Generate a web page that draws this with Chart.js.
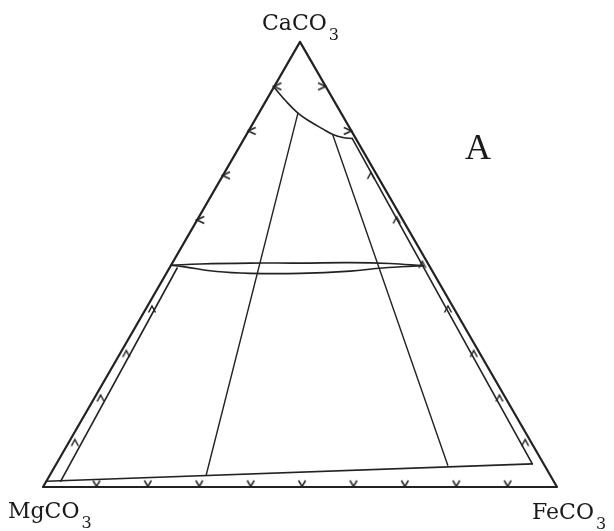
<!DOCTYPE html>
<html>
<head>
<meta charset="utf-8">
<script src="https://cdn.jsdelivr.net/npm/chart.js@4/dist/chart.umd.min.js"></script>
<style>
  html, body { margin: 0; padding: 0; background: #fff; }
  #wrap { position: relative; width: 614px; height: 531px; }
  #ternary { position: absolute; left: 0; top: 0; }
  .lbl {
    position: absolute;
    font-family: "DejaVu Serif", serif;
    font-size: 22px;
    line-height: 22px;
    color: #1a1a1a;
    white-space: nowrap;
  }
  .lbl .sub { font-size: 16px; position: relative; top: 10px; margin-left: 2px; }
  .panel {
    position: absolute;
    font-family: "Liberation Serif", serif;
    font-size: 36px;
    line-height: 36px;
    color: #1a1a1a;
  }
</style>
</head>
<body>
<div id="wrap">
  <canvas id="ternary" width="614" height="531"></canvas>
  <div class="lbl" style="left:262px; top:12px">CaCO<span class="sub">3</span></div>
  <div class="lbl" style="left:8px; top:500px">MgCO<span class="sub">3</span></div>
  <div class="lbl" style="left:532px; top:501px">FeCO<span class="sub">3</span></div>
  <div class="panel" style="left:465px; top:129px">A</div>
</div>
<script>
// compositions as [mol% CaCO3, mol% FeCO3]; MgCO3 is the remainder
const outline = [[100, 0], [0, 0], [0, 100], [100, 0]];

// calcite solvus near the CaCO3 apex
const calciteSolvus = [[89.6, 0.3], [86.7, 3.9], [84.0, 7.6], [82.1, 10.9], [80.5, 14.1], [79.2, 16.8], [78.5, 19.1], [78.3, 21.0]];

// dolomite-ankerite lens at about 50% CaCO3
const lensUpper = [[49.8, 0], [50.1, 5.5], [50.3, 15.1], [50.3, 24.8], [50.4, 34.5], [50.2, 42.4], [49.7, 49.1]];
const lensLower = [[49.8, 0], [49.5, 2.5], [48.4, 9.6], [48.0, 16.3], [48.0, 26.0], [48.5, 35.5], [49.2, 41.5], [49.7, 49.1]];

// three-phase triangle sides
const tieLeft = [[84.0, 7.6], [2.7, 30.4]];
const tieRight = [[79.0, 16.9], [4.9, 76.3]];

// limits along the edges
const mgLimit = [[49.2, 1.5], [1.3, 2.8]];
const baseLimit = [[1.3, 0], [5.2, 92.6]];
const feLimit = [[78.3, 21.0], [5.2, 92.6]];

// 10% tick positions along each side
const leftTicksOuter = [90, 80, 70, 60];
const leftTicksInner = [40, 30, 20, 10];
const baseTicks = [10, 20, 30, 40, 50, 60, 70, 80, 90];
const rightTicksOuter = [90, 80];
const rightTicksInner = [70, 60, 50, 40, 30, 20, 10];

const H = Math.sqrt(3) / 2;
function toXY(p) {
  return { x: p[1] / 100 + p[0] / 200, y: (p[0] / 100) * H };
}

// small chevron glyphs used as point styles
function chevron(dir) {
  const c = document.createElement("canvas");
  c.width = 10;
  c.height = 10;
  const g = c.getContext("2d");
  g.strokeStyle = "#222";
  g.lineWidth = 1.5;
  g.beginPath();
  if (dir === "left") { g.moveTo(9, 1.5); g.lineTo(1.5, 5); g.lineTo(9, 8.5); }
  if (dir === "right") { g.moveTo(1, 1.5); g.lineTo(8.5, 5); g.lineTo(1, 8.5); }
  if (dir === "up") { g.moveTo(1.5, 8.5); g.lineTo(5, 2); g.lineTo(8.5, 8.5); }
  if (dir === "down") { g.moveTo(1.5, 2); g.lineTo(5, 8); g.lineTo(8.5, 2); }
  g.stroke();
  return c;
}

function line(points, width, curved) {
  return {
    data: points.map(toXY),
    showLine: true,
    borderColor: "#222",
    borderWidth: width,
    pointRadius: 0,
    borderJoinStyle: "round",
    borderCapStyle: "round",
    tension: curved ? 0.4 : 0
  };
}

function marks(points, dir) {
  return {
    data: points.map(toXY),
    showLine: false,
    pointStyle: chevron(dir),
    pointRadius: 5
  };
}

const ctx = document.getElementById("ternary").getContext("2d");
new Chart(ctx, {
  type: "scatter",
  data: {
    datasets: [
      line(outline, 2.2, false),
      line(calciteSolvus, 1.6, true),
      line(lensUpper, 1.6, true),
      line(lensLower, 1.6, true),
      line(tieLeft, 1.4, false),
      line(tieRight, 1.4, false),
      line(mgLimit, 1.6, false),
      line(baseLimit, 1.6, false),
      line(feLimit, 1.6, false),
      marks(leftTicksOuter.map(c => [c, 0.6]), "left"),
      marks(leftTicksInner.map(c => [c, 1.2]), "up"),
      marks(baseTicks.map(f => [0.8, f]), "down"),
      marks(rightTicksOuter.map(c => [c, 100 - c - 0.7]), "right"),
      marks(rightTicksInner.map(c => [c, 100 - c - 1.2]), "up")
    ]
  },
  options: {
    responsive: false,
    animation: false,
    events: [],
    layout: { padding: 0, autoPadding: false },
    plugins: { legend: { display: false }, tooltip: { enabled: false } },
    scales: {
      x: { type: "linear", min: -43 / 514, max: 571 / 514, display: false },
      y: { type: "linear", min: -44 / 514, max: 487 / 514, display: false }
    }
  }
});
</script>
</body>
</html>
